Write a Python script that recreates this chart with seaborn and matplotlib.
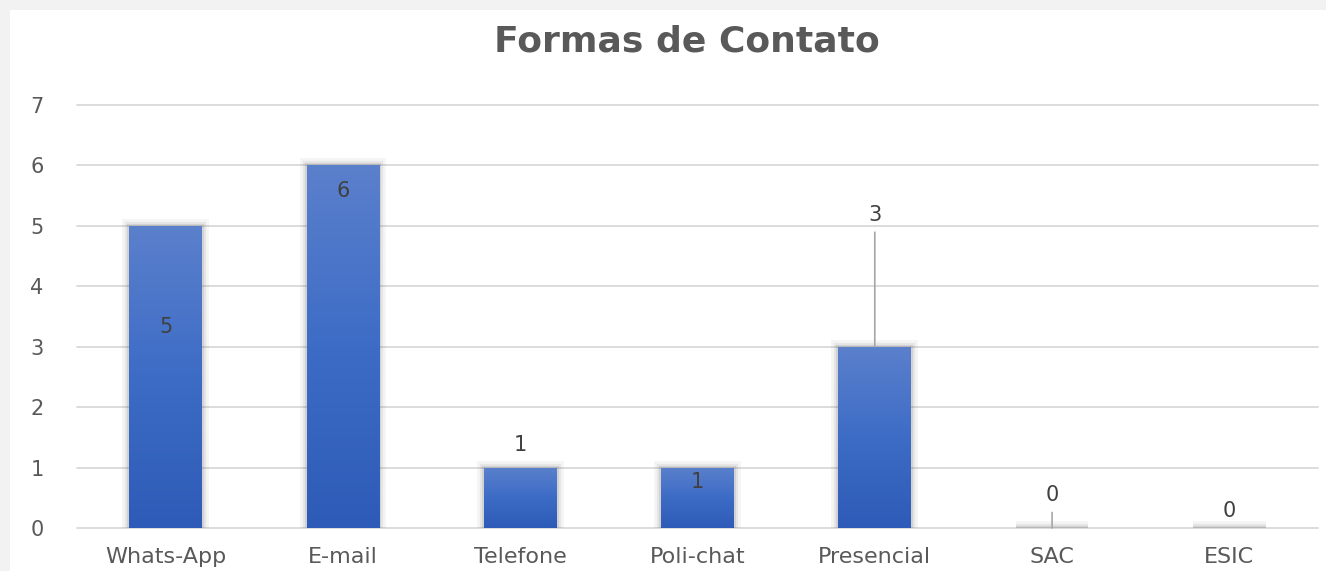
"""Formas de Contato - Excel-style gradient bar chart recreated with seaborn."""

import matplotlib

matplotlib.use("Agg")
import matplotlib.pyplot as plt
import matplotlib.patheffects as pe
import numpy as np
import pandas as pd
import seaborn as sns
from matplotlib.patches import Rectangle

# --- data ---
CATEGORIES = ["Whats-App", "E-mail", "Telefone", "Poli-chat", "Presencial", "SAC", "ESIC"]
VALUES = [5, 6, 1, 1, 3, 0, 0]
Y_TICKS = [0, 1, 2, 3, 4, 5, 6, 7]

# label placement (pixels relative to bar top, + = up), as in the original chart
LABEL_DY_PX = [-101, -26, 23, -14, 132, 33, 17]
LEADER = [False, False, False, False, True, True, False]

TXT = "#595959"
LBL = "#404040"
GRID = "#d9d9d9"

df = pd.DataFrame({"forma": CATEGORIES, "qtd": VALUES})

sns.set_theme(style="white")
plt.rcParams["font.family"] = ["DejaVu Sans"]

fig = plt.figure(figsize=(13.26, 5.71), dpi=100, facecolor="#f2f2f2")
# white chart area (Excel-like frame)
fig.patches.append(Rectangle((10 / 1326, 0), 1, 1 - 10 / 571, transform=fig.transFigure,
                             facecolor="white", edgecolor="none", zorder=-10))

ax = fig.add_axes([77 / 1326, 1 - 528 / 571, (1318 - 77) / 1326, (528 - 105) / 571])
ax.set_facecolor("none")

sns.barplot(data=df, x="forma", y="qtd", order=CATEGORIES, color="#4472c4",
            width=0.41, ax=ax, zorder=3)

# vertical gradient fill + soft shadow on each bar
grad = np.linspace(0, 1, 256).reshape(-1, 1)
cmap = matplotlib.colors.LinearSegmentedColormap.from_list(
    "xl", ["#2d5bb7", "#3d6cc6", "#5b80cc"])
shadow = [pe.Stroke(linewidth=10, foreground=(0.35, 0.35, 0.35, 0.06)),
          pe.Stroke(linewidth=6, foreground=(0.35, 0.35, 0.35, 0.09)),
          pe.Stroke(linewidth=3, foreground=(0.35, 0.35, 0.35, 0.14)),
          pe.Normal()]
for bar in ax.patches:
    bar.set_edgecolor("none")
    bar.set_path_effects(shadow)
    x0, w, h = bar.get_x(), bar.get_width(), bar.get_height()
    if h > 0:
        im = ax.imshow(grad, extent=[x0, x0 + w, 0, h], origin="lower", aspect="auto",
                       cmap=cmap, zorder=4)
        im.set_clip_path(bar)

ax.set_xlim(-0.5, len(CATEGORIES) - 0.5)
ax.set_ylim(0, 7)
ax.set_yticks(Y_TICKS)
ax.yaxis.grid(True, color=GRID, lw=1.3, zorder=0)
ax.set_axisbelow(True)
for gl in ax.yaxis.get_gridlines():
    gl.set_clip_on(False)
sns.despine(ax=ax, left=True, bottom=True, top=True, right=True)
ax.set_xlabel("")
ax.set_ylabel("")
ax.tick_params(axis="y", length=0, pad=24, labelsize=15, labelcolor=TXT)
ax.tick_params(axis="x", length=0, pad=14, labelsize=16, labelcolor=TXT)

# data labels
for i, (v, dy, lead) in enumerate(zip(VALUES, LABEL_DY_PX, LEADER)):
    arrow = dict(arrowstyle="-", color="#a6a6a6", lw=1.2, shrinkA=3, shrinkB=0) if lead else None
    ax.annotate(str(v), xy=(i, v), xytext=(0, dy * 0.72), textcoords="offset points",
                ha="center", va="center", fontsize=15, color=LBL,
                arrowprops=arrow, zorder=6, annotation_clip=False)

fig.text(687 / 1326, 1 - 41 / 571, "Formas de Contato", ha="center", va="center",
         fontsize=26, fontweight="bold", color=TXT)

fig.savefig("out.png", dpi=100, facecolor=fig.get_facecolor())
